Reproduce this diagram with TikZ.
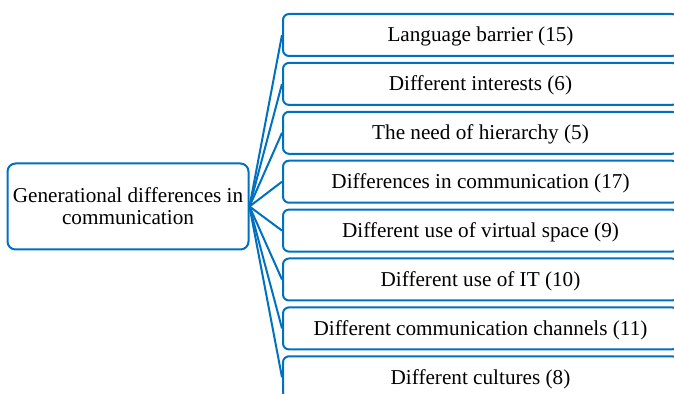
\documentclass[tikz,border=0pt]{standalone}
\usepackage{fontspec}
\setmainfont{Liberation Serif}
\definecolor{linkblue}{RGB}{0,112,192}
\begin{document}
\begin{tikzpicture}[x=0.5pt,y=-0.5pt,
  every node/.style={font=\fontsize{10.6}{11}\selectfont, text=black},
  rootbox/.style={draw=linkblue, line width=1pt, rounded corners=4pt, fill=white,
    minimum width=120.5pt, minimum height=43pt, inner sep=0pt, align=center},
  leafbox/.style={draw=linkblue, line width=1pt, rounded corners=3pt, fill=white,
    minimum width=197.5pt, minimum height=21pt, inner sep=0pt,
    text height=7pt, text depth=0pt},
  link/.style={draw=linkblue, line width=1pt}]
\useasboundingbox (0,0) rectangle (674,394);
\clip (0,0) rectangle (674,394);

\node[rootbox] (root) at (128,206.5) {Generational differences in\\communication};

\node[leafbox] (l1) at (480.5,35.0)  {Language barrier (15)};
\node[leafbox] (l2) at (480.5,83.9)  {Different interests (6)};
\node[leafbox] (l3) at (480.5,132.8) {The need of hierarchy (5)};
\node[leafbox] (l4) at (480.5,181.7) {Differences in communication (17)};
\node[leafbox] (l5) at (480.5,230.6) {Different use of virtual space (9)};
\node[leafbox] (l6) at (480.5,279.5) {Different use of IT (10)};
\node[leafbox] (l7) at (480.5,328.4) {Different communication channels (11)};
\node[leafbox] (l8) at (480.5,377.3) {Different cultures (8)};

\foreach \n in {l1,l2,l3,l4,l5,l6,l7,l8}
  \draw[link] (root.east) -- (\n.west);
\end{tikzpicture}
\end{document}
